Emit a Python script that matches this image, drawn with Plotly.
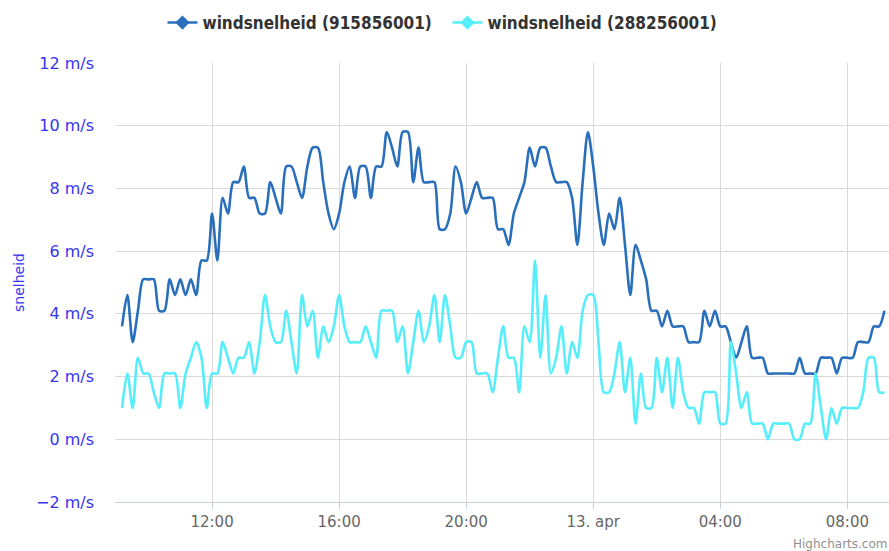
import pandas as pd
import plotly.graph_objects as go

# ---- data (10-minute readings, 12 apr 09:10 -> 13 apr 09:10) ----
start_time = "2015-04-12 09:10"
n_points = 145

speed_915856001 = [
    3.6, 4.6, 3.1, 4.1, 5.1, 5.1, 5.1, 4.1, 4.1, 5.1,
    4.6, 5.1, 4.6, 5.1, 4.6, 5.7, 5.7, 7.2, 5.7, 7.7,
    7.2, 8.2, 8.2, 8.7, 7.7, 7.7, 7.2, 7.2, 8.2, 7.7,
    7.2, 8.7, 8.7, 8.2, 7.7, 8.7, 9.3, 9.3, 8.2, 7.2,
    6.7, 7.2, 8.2, 8.7, 7.7, 8.7, 8.7, 7.7, 8.7, 8.7,
    9.8, 9.3, 8.7, 9.8, 9.8, 8.2, 9.3, 8.2, 8.2, 8.2,
    6.7, 6.7, 7.2, 8.7, 8.2, 7.2, 7.7, 8.2, 7.7, 7.7,
    7.7, 6.7, 6.7, 6.2, 7.2, 7.7, 8.2, 9.3, 8.7, 9.3,
    9.3, 8.7, 8.2, 8.2, 8.2, 7.7, 6.2, 8.2, 9.8, 8.7,
    7.2, 6.2, 7.2, 6.7, 7.7, 6.2, 4.6, 6.2, 5.7, 5.1,
    4.1, 4.1, 3.6, 4.1, 3.6, 3.6, 3.6, 3.1, 3.1, 3.1,
    4.1, 3.6, 4.1, 3.6, 3.6, 3.1, 2.6, 3.1, 3.6, 2.6,
    2.6, 2.6, 2.1, 2.1, 2.1, 2.1, 2.1, 2.1, 2.6, 2.1,
    2.1, 2.1, 2.6, 2.6, 2.6, 2.1, 2.6, 2.6, 2.6, 3.1,
    3.1, 3.1, 3.6, 3.6, 4.1,
]

speed_288256001 = [
    1.0, 2.1, 1.0, 2.6, 2.1, 2.1, 1.5, 1.0, 2.1, 2.1,
    2.1, 1.0, 2.1, 2.6, 3.1, 2.6, 1.0, 2.1, 2.1, 3.1,
    2.6, 2.1, 2.6, 2.6, 3.1, 2.1, 3.1, 4.6, 3.6, 3.1,
    3.1, 4.1, 3.1, 2.1, 4.6, 3.6, 4.1, 2.6, 3.6, 3.1,
    3.6, 4.6, 3.6, 3.1, 3.1, 3.1, 3.6, 3.1, 2.6, 4.1,
    4.1, 4.1, 3.1, 3.6, 2.1, 3.1, 4.1, 3.1, 3.6, 4.6,
    3.1, 4.6, 3.6, 2.6, 2.6, 3.1, 3.1, 2.1, 2.1, 2.1,
    1.5, 2.6, 3.6, 2.6, 2.6, 1.5, 3.6, 3.1, 5.7, 2.6,
    4.6, 2.1, 2.6, 3.6, 2.1, 3.1, 2.6, 4.1, 4.6, 4.6,
    3.1, 1.5, 1.5, 2.1, 3.1, 1.5, 2.6, 0.5, 2.1, 1.0,
    1.0, 2.6, 1.5, 2.6, 1.0, 2.6, 1.5, 1.0, 1.0, 0.5,
    1.5, 1.5, 1.5, 0.5, 0.5, 3.1, 2.1, 1.0, 1.5, 0.5,
    0.5, 0.5, 0.0, 0.5, 0.5, 0.5, 0.5, 0.0, 0.0, 0.5,
    0.5, 2.1, 1.0, 0.0, 1.0, 0.5, 1.0, 1.0, 1.0, 1.0,
    1.5, 2.6, 2.6, 1.5, 1.5,
]

series_names = ["windsnelheid (915856001)", "windsnelheid (288256001)"]
series_colors = ["#2a6fbb", "#55eefa"]

x_tick_values = ["2015-04-12 12:00", "2015-04-12 16:00", "2015-04-12 20:00",
                 "2015-04-13 00:00", "2015-04-13 04:00", "2015-04-13 08:00"]
x_tick_labels = ["12:00", "16:00", "20:00", "13. apr", "04:00", "08:00"]
x_range = ["2015-04-12 08:56:40", "2015-04-13 09:18:40"]

y_min, y_max, y_step = -2, 12, 2
y_unit = " m/s"
y_title = "snelheid"

times = pd.date_range(start_time, periods=n_points, freq="10min")

fig = go.Figure()
for name, vals, col in zip(series_names, [speed_915856001, speed_288256001], series_colors):
    fig.add_trace(go.Scatter(
        x=times, y=vals, mode="lines", name=name, showlegend=False,
        line=dict(color=col, width=2.6, shape="spline", smoothing=0.8),
        hoverinfo="skip",
    ))
    # legend entry (line + diamond marker, as in the original legend)
    fig.add_trace(go.Scatter(
        x=[None], y=[None], mode="lines+markers", name=name,
        line=dict(color=col, width=2.6),
        marker=dict(symbol="diamond", size=11, color=col),
    ))

fig.update_layout(
    width=889, height=551,
    margin=dict(l=115, r=0, t=63, b=49, autoexpand=False),
    paper_bgcolor="white", plot_bgcolor="white",
    font=dict(family="DejaVu Sans", color="#666666"),
    showlegend=True,
    legend=dict(
        orientation="h", xref="container", xanchor="center", x=0.5 + 3 / 889,
        yref="container", yanchor="middle", y=1 - 23 / 551,
        entrywidth=240, entrywidthmode="pixels",
        font=dict(family="DejaVu Sans Condensed, DejaVu Sans", size=17, color="#333333", weight="bold"),
        bgcolor="rgba(0,0,0,0)",
    ),
    xaxis=dict(
        type="date", range=x_range, automargin=False,
        tickmode="array", tickvals=x_tick_values, ticktext=x_tick_labels,
        showgrid=True, gridcolor="#d9d9d9", gridwidth=1,
        showline=True, linecolor="#c8d2dc", linewidth=1,
        ticks="outside", ticklen=6, tickcolor="#c8d2dc",
        tickfont=dict(family="DejaVu Sans", size=15, color="#666666"),
        zeroline=False,
    ),
    yaxis=dict(
        range=[y_min, y_max], tickmode="linear", tick0=0, dtick=y_step,
        ticksuffix=y_unit, automargin=False,
        showgrid=True, gridcolor="#d9d9d9", gridwidth=1,
        zeroline=False, showline=False, ticks="",
        ticklabelstandoff=20,
        tickfont=dict(family="DejaVu Sans", size=16, color="#3535ee"),
        title=dict(text=y_title, font=dict(family="DejaVu Sans", size=14, color="#3535ee"), standoff=8),
    ),
    annotations=[dict(
        text="Highcharts.com", xref="paper", yref="paper", x=1, y=0,
        xanchor="right", yanchor="top", yshift=-33, showarrow=False,
        font=dict(family="DejaVu Sans", size=12, color="#909090"),
    )],
)

fig.write_html("out.html", config={"displayModeBar": False},
               post_script="document.body.style.margin='0';")
